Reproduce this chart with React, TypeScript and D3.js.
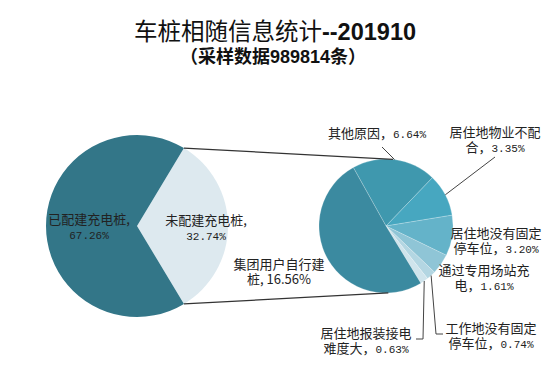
import React from 'react';
import * as d3 from 'd3';

const titleMain = '车桩相随信息统计';
const titleCode = '--201910';
const subtitleParts = ['（采样数据', '989814', '条）'];

const mainCategories = ['未配建充电桩', '已配建充电桩'];
const mainValues = [32.74, 67.26];
const mainColors = ['#dde9ef', '#337688'];

const subCategories = ['其他原因', '居住地物业不配合', '居住地没有固定停车位', '通过专用场站充电', '工作地没有固定停车位', '居住地报装接电难度大', '集团用户自行建桩'];
const subValues = [6.64, 3.35, 3.2, 1.61, 0.74, 0.63, 16.56];
const subColors = ['#3f98ae', '#47a7c0', '#64b3c9', '#8fc5d6', '#b3d6e2', '#cfe4ec', '#3b8aa0'];

const W = 554, H = 366;
const mainC = { x: 137, y: 226, r: 91 };
const subC = { x: 386, y: 226, r: 67 };
const subStart = (-29.2 * Math.PI) / 180;

const mainLabelLayout = [
  { x: 206, y: 220, split: 7, sep: ',' },
  { x: 89, y: 219, split: 7, sep: ',' },
];
const subLabelLayout = [
  { x: 377, y: 133, split: 99, sep: '，' },
  { x: 495, y: 132, split: 7, sep: '，' },
  { x: 496, y: 233, split: 7, sep: '，' },
  { x: 484, y: 270, split: 7, sep: '，' },
  { x: 491, y: 328, split: 7, sep: '，' },
  { x: 366, y: 333, split: 7, sep: '，' },
  { x: 279, y: 264, split: 7, sep: ', ', sans: true },
];
const leaderBends: { [k: number]: [number, number][] } = {
  0: [[382, 147]],
  1: [[495, 157]],
  4: [[436, 334], [443, 334]],
  5: [[423, 339], [416, 339]],
};

const cjk = '"Noto Sans CJK SC", "Microsoft YaHei", sans-serif';
const mono = '"Liberation Mono", "DejaVu Sans Mono", monospace';
const latin = '"Liberation Sans", Arial, sans-serif';

function pt(c: { x: number; y: number }, r: number, a: number): [number, number] {
  return [c.x + r * Math.sin(a), c.y - r * Math.cos(a)];
}

function LabelLine({ text, x, y, sans }: { text: string; x: number; y: number; sans?: boolean }) {
  const segs = text.split(/([0-9.%]+)/).filter((s) => s.length);
  return (
    <text x={x} y={y + 4.5} textAnchor="middle" fill="#222" fontSize={13} fontFamily={cjk}>
      {segs.map((s, i) =>
        /[0-9]/.test(s) && !sans ? (
          <tspan key={i} fontFamily={mono} fontSize={11}>{s}</tspan>
        ) : (
          <tspan key={i}>{s}</tspan>
        )
      )}
    </text>
  );
}

function Label({ full, layout }: { full: string; layout: { x: number; y: number; split: number; sans?: boolean } }) {
  const l1 = full.slice(0, layout.split);
  const l2 = full.slice(layout.split);
  return (
    <g>
      <LabelLine text={l1} x={layout.x} y={layout.y} sans={layout.sans} />
      {l2 && <LabelLine text={l2} x={layout.x} y={layout.y + 15} sans={layout.sans} />}
    </g>
  );
}

export default function App() {
  const unSpan = (mainValues[0] / d3.sum(mainValues)) * 2 * Math.PI;
  const mainStart = Math.PI / 2 - unSpan / 2;
  const mainPie = d3.pie<number>().sort(null).startAngle(mainStart).endAngle(mainStart + 2 * Math.PI)(mainValues);
  const subPie = d3.pie<number>().sort(null).startAngle(subStart).endAngle(subStart + 2 * Math.PI)(subValues);
  const mainArc = d3.arc<d3.PieArcDatum<number>>().innerRadius(0).outerRadius(mainC.r);
  const subArc = d3.arc<d3.PieArcDatum<number>>().innerRadius(0).outerRadius(subC.r);

  const topL = pt(mainC, mainC.r, mainPie[0].startAngle);
  const botL = pt(mainC, mainC.r, mainPie[0].endAngle);
  const topR = pt(subC, subC.r, (6 * Math.PI) / 180);
  const botR = pt(subC, subC.r, (178 * Math.PI) / 180);

  const line = d3.line();

  return (
    <svg width={W} height={H} style={{ position: 'absolute', left: 0, top: 0, background: '#fff' }}>
      <rect width={W} height={H} fill="#fff" />
      <text x={275} y={40} textAnchor="middle" fontSize={23.5} fill="#111" fontFamily={cjk}>
        <tspan fontWeight={400}>{titleMain}</tspan>
        <tspan fontWeight="bold" fontFamily={latin}>{titleCode}</tspan>
      </text>
      <text x={273} y={63} textAnchor="middle" fontSize={18} fontWeight="bold" fill="#111" fontFamily={cjk}>
        <tspan>{subtitleParts[0]}</tspan>
        <tspan fontFamily={latin}>{subtitleParts[1]}</tspan>
        <tspan>{subtitleParts[2]}</tspan>
      </text>

      <g transform={`translate(${mainC.x},${mainC.y})`}>
        {mainPie.map((d, i) => (
          <path key={i} d={mainArc(d) || ''} fill={mainColors[i]} />
        ))}
      </g>
      <g transform={`translate(${subC.x},${subC.y})`}>
        {subPie.map((d, i) => (
          <path key={i} d={subArc(d) || ''} fill={subColors[i]} stroke="#ffffff" strokeOpacity={0.35} strokeWidth={0.6} />
        ))}
      </g>

      <path d={line([topL, topR]) || ''} stroke="#333" strokeWidth={1.2} fill="none" />
      <path d={line([botL, botR]) || ''} stroke="#333" strokeWidth={1.2} fill="none" />

      {Object.keys(leaderBends).map((k) => {
        const i = +k;
        const mid = (subPie[i].startAngle + subPie[i].endAngle) / 2;
        const p0 = pt(subC, subC.r, mid);
        return <path key={k} d={line([p0, ...leaderBends[i]]) || ''} stroke="#444" strokeWidth={1} fill="none" />;
      })}

      {mainCategories.map((c, i) => (
        <Label key={c} full={`${c}${mainLabelLayout[i].sep}${mainValues[i].toFixed(2)}%`} layout={mainLabelLayout[i]} />
      ))}
      {subCategories.map((c, i) => (
        <Label key={c} full={`${c}${subLabelLayout[i].sep}${subValues[i].toFixed(2)}%`} layout={subLabelLayout[i]} />
      ))}
    </svg>
  );
}
